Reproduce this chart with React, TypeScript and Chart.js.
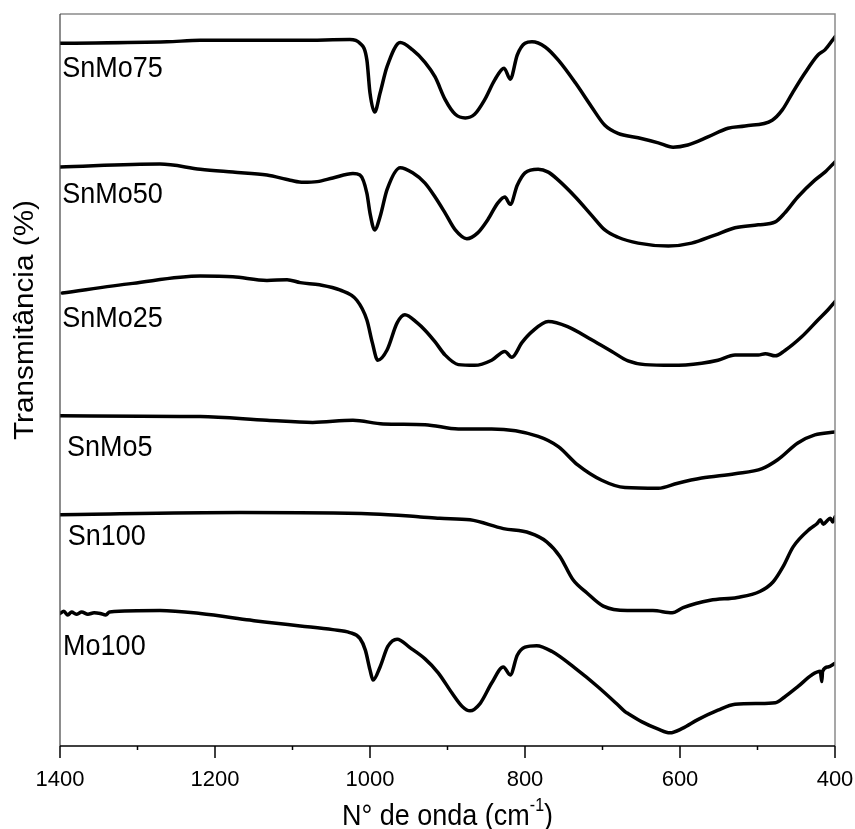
import React, { useEffect, useRef } from 'react';
import { Chart, registerables } from 'chart.js';

Chart.register(...registerables);

// ---- data (wavenumber in cm-1, transmittance in arbitrary stacked % units) ----
const wnSnMo75 = [1400, 1262, 1219, 1090, 1026, 1013, 1004, 1000, 994, 987, 978, 961, 945, 929, 916, 903, 890, 877, 865, 852, 839, 827, 819, 810, 800, 791, 774, 757, 735, 714, 697, 680, 654, 628, 609, 590, 564, 538, 516, 481, 468, 455, 439, 422, 413, 400];
const tSnMo75 = [96.0, 96.2, 96.4, 96.4, 96.5, 96.0, 93.7, 89.2, 86.6, 89.2, 92.8, 96.1, 95.1, 93.4, 91.4, 88.3, 86.3, 85.8, 86.3, 88.3, 91.0, 92.6, 91.1, 94.4, 96.0, 96.2, 95.5, 93.7, 90.6, 87.3, 84.8, 83.7, 83.1, 82.4, 81.8, 82.1, 83.2, 84.4, 84.7, 85.5, 86.9, 89.2, 91.9, 94.4, 95.1, 96.9];

const wnSnMo50 = [1400, 1271, 1219, 1177, 1133, 1103, 1086, 1068, 1048, 1022, 1013, 1004, 1000, 994, 987, 978, 961, 945, 929, 916, 903, 890, 875, 861, 848, 835, 826, 819, 810, 800, 783, 770, 757, 735, 714, 697, 680, 654, 615, 585, 555, 529, 499, 477, 465, 448, 426, 413, 400];
const tSnMo50 = [79.1, 79.5, 78.8, 78.4, 78.0, 77.3, 77.0, 77.1, 77.6, 78.2, 78.0, 75.5, 72.8, 70.5, 72.3, 76.0, 79.0, 78.3, 76.9, 75.0, 72.8, 70.5, 69.3, 70.1, 71.9, 74.2, 75.0, 74.0, 76.6, 78.3, 78.8, 78.4, 77.3, 75.0, 72.5, 70.5, 69.5, 68.7, 68.3, 68.7, 69.8, 70.8, 71.2, 71.6, 72.8, 75.0, 77.3, 78.4, 79.8];

const wnSnMo25 = [1397, 1306, 1219, 1177, 1133, 1107, 1090, 1065, 1039, 1017, 1004, 997, 990, 978, 965, 955, 939, 929, 916, 903, 886, 865, 843, 826, 817, 804, 791, 770, 745, 714, 688, 667, 645, 610, 572, 551, 529, 499, 490, 477, 465, 443, 422, 409, 400];
const tSnMo25 = [61.9, 63.2, 64.2, 64.1, 63.6, 63.7, 63.3, 63.0, 62.3, 60.9, 58.2, 55.1, 52.7, 54.1, 57.8, 58.9, 57.8, 56.8, 55.2, 53.4, 52.1, 52.0, 52.7, 53.9, 53.1, 55.1, 56.6, 58.0, 57.3, 55.5, 53.9, 52.6, 52.1, 52.0, 52.3, 52.7, 53.4, 53.4, 53.6, 53.3, 54.0, 55.9, 58.2, 59.6, 60.7];

const wnSnMo5 = [1400, 1219, 1133, 1074, 1022, 983, 929, 886, 843, 783, 757, 732, 701, 671, 628, 603, 572, 529, 494, 474, 448, 426, 400];
const tSnMo5 = [45.1, 45.0, 44.5, 44.2, 44.5, 44.0, 43.9, 43.3, 43.3, 42.3, 40.9, 38.4, 36.3, 35.3, 35.2, 35.9, 36.6, 37.2, 37.9, 39.1, 41.4, 42.5, 42.9];

const wnSn100 = [1400, 1168, 996, 935, 910, 871, 828, 794, 772, 755, 738, 720, 699, 668, 635, 610, 596, 561, 526, 497, 480, 467, 454, 432, 423, 419, 415, 410, 406, 403, 400];
const tSn100 = [31.6, 31.9, 31.7, 31.3, 31.1, 30.9, 29.7, 29.1, 27.9, 25.9, 22.7, 20.9, 19.1, 18.5, 18.5, 18.2, 18.9, 19.9, 20.3, 21.1, 22.4, 24.5, 27.2, 29.7, 30.4, 30.9, 30.3, 30.8, 31.1, 30.6, 31.3];

const wnMo100 = [1400, 1395, 1390, 1385, 1379, 1372, 1364, 1356, 1348, 1341, 1336, 1271, 1219, 1155, 1133, 1090, 1048, 1026, 1013, 1006, 1000, 996, 987, 977, 965, 948, 929, 912, 894, 881, 871, 858, 843, 828, 819, 810, 800, 785, 765, 735, 706, 680, 671, 668, 649, 628, 613, 597, 577, 551, 529, 499, 477, 465, 448, 430, 419, 417, 416, 409, 400];
const tMo100 = [18.1, 18.4, 17.9, 18.3, 18.0, 18.3, 18.0, 18.2, 18.1, 17.9, 18.3, 18.5, 18.1, 17.2, 16.9, 16.4, 15.9, 15.5, 14.7, 13.1, 10.4, 9.0, 10.8, 13.6, 14.6, 13.4, 11.9, 10.0, 7.2, 5.4, 4.8, 5.8, 8.6, 10.8, 9.7, 12.4, 13.5, 13.7, 12.9, 10.6, 8.1, 5.6, 4.7, 4.5, 3.3, 2.3, 1.8, 2.4, 3.6, 4.9, 5.7, 5.8, 5.9, 6.7, 8.1, 9.7, 10.2, 8.8, 10.2, 10.8, 11.3];

const sampleNames = ['SnMo75', 'SnMo50', 'SnMo25', 'SnMo5', 'Sn100', 'Mo100'];
const labelWn = [1397, 1397, 1397, 1391, 1390, 1396];
const labelT = [92.5, 75.3, 58.3, 40.8, 28.6, 13.5];
const xLabeledTicks = [1400, 1200, 1000, 800, 600, 400];

const series = [
  [wnSnMo75, tSnMo75],
  [wnSnMo50, tSnMo50],
  [wnSnMo25, tSnMo25],
  [wnSnMo5, tSnMo5],
  [wnSn100, tSn100],
  [wnMo100, tMo100],
];

const FONT = '"Liberation Sans", Arial, sans-serif';

const decorPlugin = {
  id: 'decor',
  afterDraw(chart: any) {
    const { ctx, chartArea, scales } = chart;
    const xs = scales.x;
    const ys = scales.y;
    const { left, right, top, bottom } = chartArea;
    ctx.save();
    // frame
    ctx.lineWidth = 1.5;
    ctx.strokeStyle = '#8a8a8a';
    ctx.beginPath();
    ctx.moveTo(left, top);
    ctx.lineTo(right, top);
    ctx.lineTo(right, bottom);
    ctx.stroke();
    ctx.strokeStyle = '#404040';
    ctx.lineWidth = 1.2;
    ctx.beginPath();
    ctx.moveTo(left, top);
    ctx.lineTo(left, bottom);
    ctx.stroke();
    ctx.strokeStyle = '#000';
    ctx.lineWidth = 1.5;
    ctx.beginPath();
    ctx.moveTo(left, bottom);
    ctx.lineTo(right, bottom);
    ctx.stroke();
    // tick marks
    xs.ticks.forEach((t: any) => {
      const px = xs.getPixelForValue(t.value);
      const major = xLabeledTicks.includes(t.value);
      ctx.beginPath();
      ctx.moveTo(px, bottom);
      ctx.lineTo(px, bottom + (major ? 12 : 4));
      ctx.stroke();
    });
    // sample labels
    ctx.fillStyle = '#000';
    ctx.textBaseline = 'middle';
    ctx.textAlign = 'left';
    ctx.font = `27px ${FONT}`;
    sampleNames.forEach((name, i) => {
      const px = xs.getPixelForValue(labelWn[i]);
      const py = ys.getPixelForValue(labelT[i]);
      ctx.save();
      ctx.translate(px, py);
      ctx.scale(1, 1.1);
      ctx.fillText(name, 0, 0);
      ctx.restore();
    });
    // x title with superscript
    const main = 'N° de onda (cm';
    const sup = '-1';
    const close = ')';
    ctx.textBaseline = 'alphabetic';
    ctx.font = `27px ${FONT}`;
    const w1 = ctx.measureText(main).width;
    const w3 = ctx.measureText(close).width;
    ctx.font = `16px ${FONT}`;
    const w2 = ctx.measureText(sup).width;
    const total = w1 + w2 + w3;
    const cx = (left + right) / 2;
    ctx.save();
    ctx.translate(cx - total / 2, 825);
    ctx.scale(1, 1.1);
    ctx.font = `27px ${FONT}`;
    ctx.fillText(main, 0, 0);
    ctx.font = `16px ${FONT}`;
    ctx.fillText(sup, w1, -13);
    ctx.font = `27px ${FONT}`;
    ctx.fillText(close, w1 + w2, 0);
    ctx.restore();
    // y title
    ctx.save();
    ctx.translate(33, 320);
    ctx.rotate(-Math.PI / 2);
    ctx.scale(1.1, 1);
    ctx.font = `27px ${FONT}`;
    ctx.textAlign = 'center';
    ctx.textBaseline = 'alphabetic';
    ctx.fillText('Transmitância (%)', 0, 0);
    ctx.restore();
    ctx.restore();
  },
};

export default function App() {
  const canvasRef = useRef<HTMLCanvasElement | null>(null);

  useEffect(() => {
    const canvas = canvasRef.current;
    if (!canvas) return;
    const chart = new Chart(canvas, {
      type: 'line',
      data: {
        datasets: series.map(([wn, t], i) => ({
          label: sampleNames[i],
          data: (wn as number[]).map((x, k) => ({ x, y: (t as number[])[k] })),
          borderColor: '#000',
          borderWidth: 3.5,
          pointRadius: 0,
          fill: false,
          cubicInterpolationMode: 'monotone' as const,
          borderJoinStyle: 'round' as const,
          borderCapStyle: 'round' as const,
        })),
      },
      options: {
        animation: false,
        responsive: false,
        devicePixelRatio: 1,
        layout: { padding: { top: 14, right: 20, left: 0, bottom: 0 } },
        plugins: {
          legend: { display: false },
          tooltip: { enabled: false },
        },
        scales: {
          x: {
            type: 'linear',
            reverse: true,
            min: 400,
            max: 1400,
            grid: { display: false, drawTicks: false },
            border: { display: false },
            ticks: {
              stepSize: 100,
              autoSkip: false,
              maxRotation: 0,
              padding: 21,
              color: '#000',
              font: { family: FONT, size: 22 },
              callback: (v: any) => (xLabeledTicks.includes(Number(v)) ? String(v) : ''),
            },
            afterFit: (scale: any) => {
              scale.height = 83;
              scale.paddingLeft = 0;
              scale.paddingRight = 0;
            },
          },
          y: {
            type: 'linear',
            min: 0,
            max: 100,
            grid: { display: false, drawTicks: false },
            border: { display: false },
            ticks: { display: false },
            afterFit: (scale: any) => {
              scale.width = 60;
              scale.paddingTop = 0;
              scale.paddingBottom = 0;
            },
          },
        },
      },
      plugins: [decorPlugin],
    });
    return () => chart.destroy();
  }, []);

  return (
    <div style={{ position: 'absolute', left: 0, top: 0, width: 855, height: 829, background: '#fff' }}>
      <canvas ref={canvasRef} width={855} height={829} style={{ width: 855, height: 829, display: 'block' }} />
    </div>
  );
}
